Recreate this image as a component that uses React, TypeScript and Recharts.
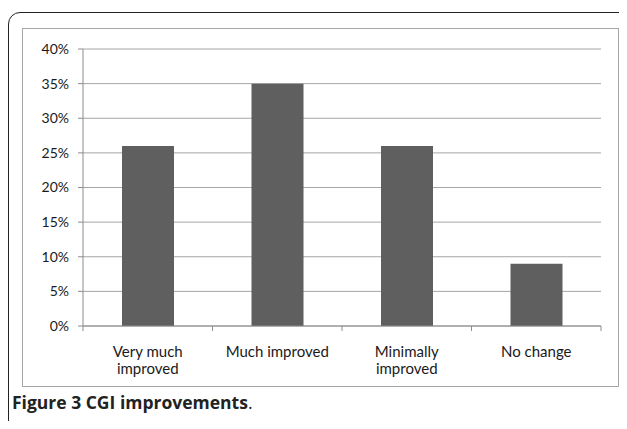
import { BarChart, Bar, XAxis, YAxis, CartesianGrid } from 'recharts';

const categories = ['Very much\nimproved', 'Much improved', 'Minimally\nimproved', 'No change'];
const values = [26, 35, 26, 9];
const yTicks = [0, 5, 10, 15, 20, 25, 30, 35, 40];

const data = categories.map((c, i) => ({ name: c, value: values[i] }));

const FONT = 'Lato, "Open Sans", sans-serif';
const AXIS = '#8c8c8c';

// category label + tick marks on the band edges (Excel style)
function CatTick(props: any) {
  const { x, y, payload } = props;
  const half = payload.offset || 0;
  const lines = String(payload.value).split('\n');
  return (
    <g>
      {payload.index === 0 && <line x1={x - half} x2={x - half} y1={y} y2={y + 5} stroke={AXIS} />}
      <line x1={x + half} x2={x + half} y1={y} y2={y + 5} stroke={AXIS} />
      <text x={x} y={y} textAnchor="middle" fill="#1a1a1a" fontSize={15} fontFamily={FONT}>
        {lines.map((l, i) => (
          <tspan key={i} x={x} dy={i === 0 ? 31 : 17}>
            {l}
          </tspan>
        ))}
      </text>
    </g>
  );
}

export default function App() {
  return (
    <div style={{ position: 'relative', width: 627, height: 429, margin: -8, overflow: 'hidden', background: '#fff' }}>
      <div
        style={{
          position: 'absolute',
          left: 8,
          top: 12,
          width: 640,
          height: 440,
          border: '1.5px solid #222',
          borderRadius: 12,
        }}
      />
      <div
        style={{
          position: 'absolute',
          left: 22,
          top: 28,
          width: 595,
          height: 357,
          border: '1px solid #a6a6a6',
        }}
      >
        <BarChart width={595} height={357} data={data} margin={{ top: 20, right: 17, left: 0, bottom: 0 }} barCategoryGap={0}>
          <CartesianGrid vertical={false} stroke="#a6a6a6" />
          <XAxis
            dataKey="name"
            height={60}
            axisLine={{ stroke: AXIS }}
            tickLine={false}
            tickSize={0}
            tickMargin={0}
            interval={0}
            tick={<CatTick />}
          />
          <YAxis
            width={60}
            domain={[0, 40]}
            ticks={yTicks}
            interval={0}
            tickFormatter={(v: number) => `${v}%`}
            axisLine={{ stroke: AXIS }}
            tickLine={{ stroke: AXIS }}
            tickSize={5}
            tickMargin={9}
            tick={{ fill: '#1a1a1a', fontSize: 14, fontFamily: FONT }}
          />
          <Bar dataKey="value" fill="#5f5f5f" barSize={52} isAnimationActive={false} />
        </BarChart>
      </div>
      <div
        style={{
          position: 'absolute',
          left: 12,
          top: 390,
          fontFamily: '"Open Sans", sans-serif',
          fontSize: 17.5,
          color: '#222',
        }}
      >
        <b>Figure 3 CGI improvements</b>.
      </div>
    </div>
  );
}
